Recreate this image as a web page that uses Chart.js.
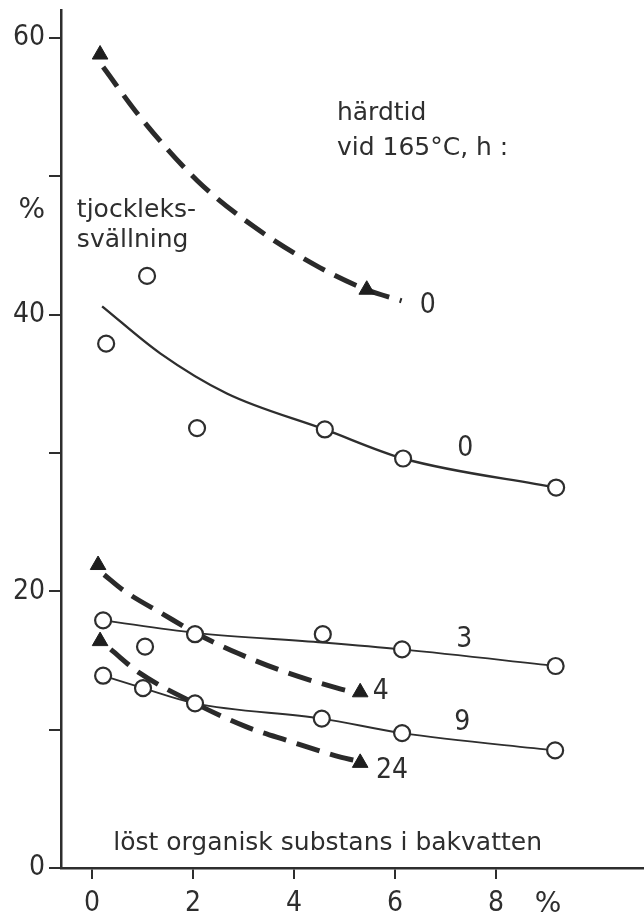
<!DOCTYPE html>
<html>
<head>
<meta charset="utf-8">
<script src="https://cdn.jsdelivr.net/npm/chart.js@4.4.1/dist/chart.umd.min.js"></script>
<style>
  html, body { margin: 0; padding: 0; background: #fff; }
  #wrap { width: 644px; height: 919px; }
</style>
</head>
<body>
<div id="wrap"><canvas id="c" width="644" height="919"></canvas></div>
<script>
// Thickness swelling (%) against dissolved organic matter in back water (%),
// for several curing times at 165 °C.

const xTicks = [0, 2, 4, 6, 8];
const yTicks = [0, 10, 20, 30, 40, 50, 60];
const yLabelled = [0, 20, 40, 60];

// cured 0 h, measured (open circles) and fitted curve
const c0X = [0.28, 1.09, 2.08, 4.61, 6.16, 9.19];
const c0Y = [37.9, 42.8, 31.8, 31.7, 29.6, 27.5];
const c0FitX = [0.20, 1.35, 2.67, 4.61, 6.16, 9.19];
const c0FitY = [40.6, 37.2, 34.3, 31.7, 29.6, 27.5];

// cured 3 h
const c3X = [0.22, 1.05, 2.04, 4.57, 6.14, 9.18];
const c3Y = [17.9, 16.0, 16.9, 16.9, 15.8, 14.6];
const c3FitX = [0.22, 2.04, 4.57, 6.14, 9.18];
const c3FitY = [17.9, 17.0, 16.3, 15.8, 14.6];

// cured 9 h
const c9X = [0.22, 1.01, 2.04, 4.55, 6.14, 9.17];
const c9Y = [13.9, 13.0, 11.9, 10.8, 9.75, 8.5];

// second material (filled triangles), dashed curves
const t0X = [0.16, 5.44];
const t0Y = [58.8, 41.8];
const t0FitX = [0.22, 0.95, 2.08, 3.19, 4.51, 5.44, 6.13];
const t0FitY = [57.9, 54.3, 49.7, 46.4, 43.4, 41.8, 41.0];

const t4X = [0.12, 5.31];
const t4Y = [21.9, 12.7];
const t4FitX = [0.24, 0.61, 1.43, 2.04, 2.90, 3.88, 4.86, 5.18];
const t4FitY = [21.2, 20.1, 18.3, 17.0, 15.5, 14.1, 13.0, 12.7];

const t24X = [0.16, 5.31];
const t24Y = [16.4, 7.6];
const t24FitX = [0.37, 0.94, 2.04, 3.06, 3.88, 4.94, 5.18];
const t24FitY = [15.8, 14.1, 11.9, 10.2, 9.2, 8.0, 7.8];

const ink = '#2e2e2e';
const body = '25px "DejaVu Sans", sans-serif';
const pct = '28px "DejaVu Sans", sans-serif';
const digits = '28px "DejaVu Sans Condensed", "DejaVu Sans", sans-serif';

// free-standing texts, placed in data coordinates
const notes = [
  { text: 'härdtid', x: 4.85, y: 54.07, align: 'left', font: body },
  { text: 'vid 165°C, h :', x: 4.85, y: 51.54, align: 'left', font: body },
  { text: 'tjockleks-', x: -0.30, y: 47.06, align: 'left', font: body },
  { text: 'svällning', x: -0.30, y: 44.89, align: 'left', font: body },
  { text: '%', x: -1.19, y: 46.99, align: 'center', font: pct },
  { text: '0', x: 6.65, y: 40.12, align: 'center', font: digits },
  { text: '0', x: 7.39, y: 29.78, align: 'center', font: digits },
  { text: '3', x: 7.37, y: 15.98, align: 'center', font: digits },
  { text: '9', x: 7.33, y: 9.98, align: 'center', font: digits },
  { text: '4', x: 5.72, y: 12.2, align: 'center', font: digits },
  { text: '24', x: 5.94, y: 6.5, align: 'center', font: digits },
  { text: 'löst organisk substans i bakvatten', x: 0.42, y: 1.30, align: 'left', font: body },
  { text: '%', x: 9.03, y: -3.18, align: 'center', font: pct }
];

const pts = (xs, ys) => xs.map((x, i) => ({ x, y: ys[i] }));

const circles = (xs, ys) => ({
  data: pts(xs, ys), showLine: false,
  pointStyle: 'circle', pointRadius: 8, pointBorderWidth: 2.2,
  pointBackgroundColor: '#fff', pointBorderColor: ink
});
const triangles = (xs, ys) => ({
  data: pts(xs, ys), showLine: false,
  pointStyle: 'triangle', pointRadius: 9, pointBorderWidth: 1,
  pointBackgroundColor: '#1e1e1e', pointBorderColor: '#1e1e1e'
});
const solid = (xs, ys, w) => ({
  data: pts(xs, ys), pointRadius: 0, borderColor: ink, borderWidth: w,
  cubicInterpolationMode: 'monotone', fill: false
});
const dashed = (xs, ys) => ({
  data: pts(xs, ys), pointRadius: 0, borderColor: '#2a2a2a', borderWidth: 5,
  borderDash: [24, 11], borderCapStyle: 'butt',
  cubicInterpolationMode: 'monotone', fill: false
});

const notesPlugin = {
  id: 'notes',
  afterDatasetsDraw(chart) {
    const { ctx, scales: { x, y } } = chart;
    ctx.save();
    ctx.fillStyle = ink;
    ctx.textBaseline = 'alphabetic';
    notes.forEach(n => {
      ctx.font = n.font;
      ctx.textAlign = n.align;
      ctx.fillText(n.text, x.getPixelForValue(n.x), y.getPixelForValue(n.y));
    });
    ctx.restore();
  }
};

// let the plot area run right up to the canvas edges
const noPad = s => { s.paddingTop = 0; s.paddingBottom = 0; s.paddingLeft = 0; s.paddingRight = 0; };

new Chart(document.getElementById('c'), {
  type: 'line',
  data: {
    datasets: [
      triangles(t0X, t0Y), triangles(t4X, t4Y), triangles(t24X, t24Y),
      circles(c0X, c0Y), circles(c3X, c3Y), circles(c9X, c9Y),
      solid(c0FitX, c0FitY, 2.4), solid(c3FitX, c3FitY, 1.8), solid(c9X, c9Y, 1.8),
      dashed(t0FitX, t0FitY), dashed(t4FitX, t4FitY), dashed(t24FitX, t24FitY)
    ]
  },
  options: {
    responsive: false,
    devicePixelRatio: 1,
    animation: false,
    events: [],
    layout: { autoPadding: false, padding: { top: 10, right: 0, bottom: 0, left: 0 } },
    plugins: { legend: { display: false }, tooltip: { enabled: false } },
    scales: {
      x: {
        type: 'linear', min: -0.614, max: 10.93,
        afterBuildTicks: s => { s.ticks = xTicks.map(v => ({ value: v })); },
        afterFit: s => { s.height = 51; noPad(s); },
        grid: { drawOnChartArea: false, drawTicks: true, tickLength: 11, color: ink, lineWidth: 2 },
        border: { display: true, color: ink, width: 2.5 },
        ticks: { color: ink, font: { family: '"DejaVu Sans Condensed", "DejaVu Sans"', size: 28 },
                 padding: 8, maxRotation: 0, autoSkip: false }
      },
      y: {
        type: 'linear', min: 0, max: 62.02,
        afterBuildTicks: s => { s.ticks = yTicks.map(v => ({ value: v })); },
        afterFit: s => { s.width = 61; noPad(s); },
        grid: { drawOnChartArea: false, drawTicks: true, tickLength: 12, color: ink, lineWidth: 2 },
        border: { display: true, color: ink, width: 2.5 },
        ticks: { color: ink, font: { family: '"DejaVu Sans Condensed", "DejaVu Sans"', size: 28 },
                 padding: 4, autoSkip: false,
                 callback: v => yLabelled.includes(v) ? String(v) : '' }
      }
    }
  },
  plugins: [notesPlugin]
});
</script>
</body>
</html>
